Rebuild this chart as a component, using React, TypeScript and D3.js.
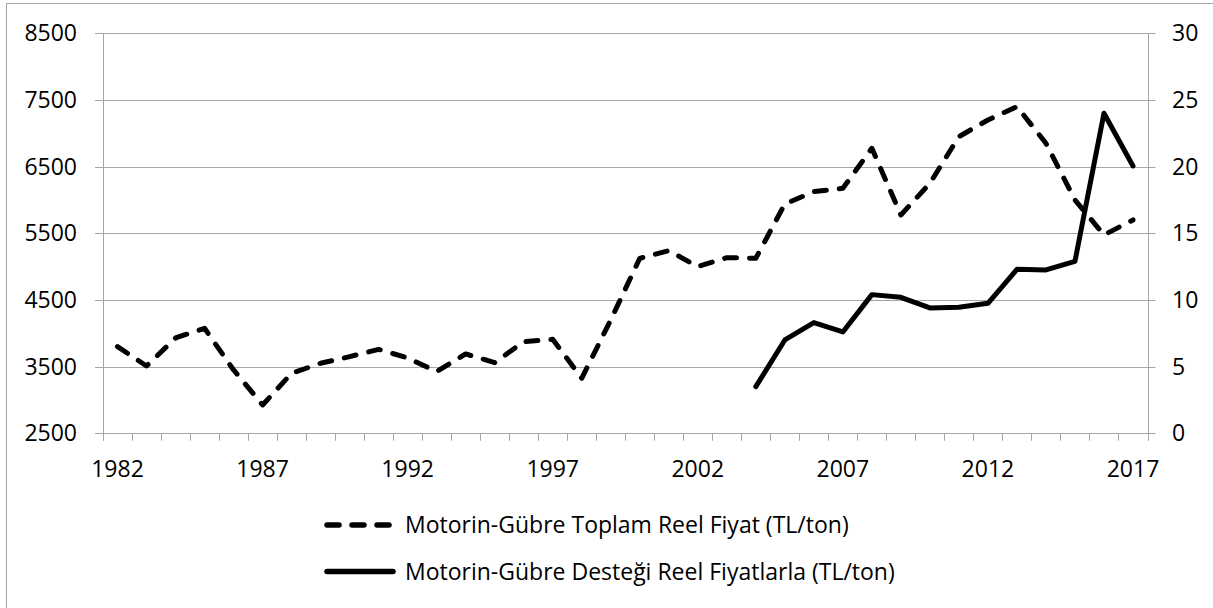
import { useEffect, useRef } from 'react';
import * as d3 from 'd3';

const years = [
  '1982', '1983', '1984', '1985', '1986', '1987', '1988', '1989', '1990', '1991',
  '1992', '1993', '1994', '1995', '1996', '1997', '1998', '1999', '2000', '2001',
  '2002', '2003', '2004', '2005', '2006', '2007', '2008', '2009', '2010', '2011',
  '2012', '2013', '2014', '2015', '2016', '2017',
];

// sol eksen (TL/ton)
const toplamFiyat = [
  3800, 3510, 3930, 4075, 3450, 2925, 3400, 3550, 3650, 3760,
  3630, 3425, 3690, 3560, 3875, 3910, 3325, 4200, 5125, 5240,
  5000, 5135, 5125, 5940, 6125, 6175, 6775, 5775, 6250, 6950,
  7200, 7400, 6850, 6000, 5475, 5700,
];

// sağ eksen, 2004'ten itibaren
const destek: (number | null)[] = [
  null, null, null, null, null, null, null, null, null, null,
  null, null, null, null, null, null, null, null, null, null,
  null, null, 3.5, 7.0, 8.3, 7.6, 10.4, 10.2, 9.4, 9.45,
  9.75, 12.3, 12.25, 12.9, 24.0, 20.05,
];

const leftTicks = [2500, 3500, 4500, 5500, 6500, 7500, 8500];
const rightTicks = [0, 5, 10, 15, 20, 25, 30];
const xLabels = ['1982', '1987', '1992', '1997', '2002', '2007', '2012', '2017'];
const legendLabels = [
  'Motorin-Gübre Toplam Reel Fiyat (TL/ton)',
  'Motorin-Gübre Desteği Reel Fiyatlarla (TL/ton)',
];

const W = 1213;
const H = 608;
const FONT = '"Open Sans", "Noto Sans", sans-serif';
const FS = 23;
const AXIS = '#a6a6a6';

export default function App() {
  const svgRef = useRef<SVGSVGElement>(null);

  useEffect(() => {
    if (!svgRef.current) return;
    const svg = d3.select(svgRef.current);
    svg.selectAll('*').remove();

    const left = 103;
    const right = 1147.5;
    const top = 33.3;
    const bottom = 433.3;

    const x = d3.scaleBand<string>().domain(years).range([left, right]).padding(0);
    const cx = (y: string) => (x(y) as number) + x.bandwidth() / 2;
    const yL = d3.scaleLinear().domain([2500, 8500]).range([bottom, top]);
    const yR = d3.scaleLinear().domain([0, 30]).range([bottom, top]);

    // çerçeve
    svg.append('rect')
      .attr('x', 6.5).attr('y', 3.5)
      .attr('width', W + 10).attr('height', H + 10)
      .attr('fill', 'white').attr('stroke', AXIS).attr('stroke-width', 1);

    // yatay ızgara
    svg.append('g')
      .selectAll('line')
      .data(leftTicks)
      .enter()
      .append('line')
      .attr('x1', left - 8).attr('x2', right + 8)
      .attr('y1', d => Math.round(yL(d)) + 0.5).attr('y2', d => Math.round(yL(d)) + 0.5)
      .attr('stroke', AXIS).attr('stroke-width', 1);

    // dikey eksenler
    [left, right].forEach(px => {
      svg.append('line')
        .attr('x1', Math.round(px) + 0.5).attr('x2', Math.round(px) + 0.5)
        .attr('y1', top).attr('y2', bottom + 7)
        .attr('stroke', AXIS).attr('stroke-width', 1);
    });

    // x tick işaretleri
    const edges = years.map(y => x(y) as number).concat([right]);
    svg.append('g')
      .selectAll('line')
      .data(edges)
      .enter()
      .append('line')
      .attr('x1', d => Math.round(d) + 0.5).attr('x2', d => Math.round(d) + 0.5)
      .attr('y1', bottom).attr('y2', bottom + 7.5)
      .attr('stroke', AXIS).attr('stroke-width', 1);

    // eksen yazıları
    svg.append('g')
      .selectAll('text')
      .data(leftTicks)
      .enter()
      .append('text')
      .attr('x', 77).attr('y', d => yL(d) + 8)
      .attr('text-anchor', 'end')
      .attr('font-family', FONT).attr('font-size', FS).attr('fill', '#000')
      .text(d => d);

    svg.append('g')
      .selectAll('text')
      .data(rightTicks)
      .enter()
      .append('text')
      .attr('x', 1172).attr('y', d => yR(d) + 8)
      .attr('font-family', FONT).attr('font-size', FS).attr('fill', '#000')
      .text(d => d);

    svg.append('g')
      .selectAll('text')
      .data(xLabels)
      .enter()
      .append('text')
      .attr('x', d => cx(d)).attr('y', 476.5)
      .attr('text-anchor', 'middle')
      .attr('font-family', FONT).attr('font-size', FS).attr('fill', '#000')
      .text(d => d);

    // seriler
    const lineL = d3.line<number>()
      .x((_, i) => cx(years[i]))
      .y(d => yL(d));

    svg.append('path')
      .attr('d', lineL(toplamFiyat))
      .attr('fill', 'none').attr('stroke', '#000')
      .attr('stroke-width', 5).attr('stroke-dasharray', '12,13')
      .attr('stroke-linecap', 'round').attr('stroke-linejoin', 'round');

    const lineR = d3.line<number | null>()
      .defined(d => d !== null)
      .x((_, i) => cx(years[i]))
      .y(d => yR(d as number));

    svg.append('path')
      .attr('d', lineR(destek))
      .attr('fill', 'none').attr('stroke', '#000')
      .attr('stroke-width', 5)
      .attr('stroke-linecap', 'round').attr('stroke-linejoin', 'round');

    // lejant
    const legend = svg.append('g');
    const rows = legend.selectAll('g')
      .data(legendLabels)
      .enter()
      .append('g')
      .attr('transform', (d, i) => `translate(0, ${525 + i * 46.5})`);

    rows.append('line')
      .attr('x1', 327).attr('x2', 393)
      .attr('y1', 0).attr('y2', 0)
      .attr('stroke', '#000').attr('stroke-width', 5.5)
      .attr('stroke-linecap', 'round')
      .attr('stroke-dasharray', (d, i) => (i === 0 ? '12,13' : null));

    rows.append('text')
      .attr('x', 405).attr('y', 8)
      .attr('font-family', FONT).attr('font-size', FS).attr('fill', '#000')
      .text(d => d);
  }, []);

  return (
    <svg
      ref={svgRef}
      width={W}
      height={H}
      style={{ position: 'absolute', left: 0, top: 0, display: 'block', background: 'white' }}
    ></svg>
  );
}
